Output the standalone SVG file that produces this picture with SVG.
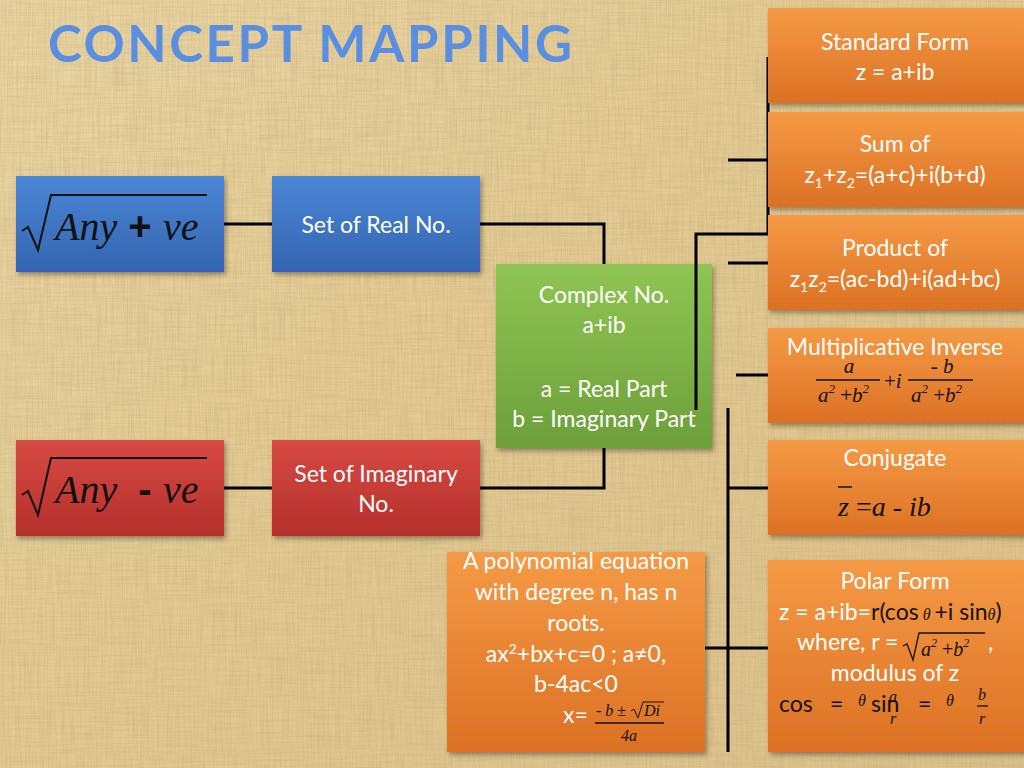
<svg xmlns="http://www.w3.org/2000/svg" width="1024" height="768" viewBox="0 0 1024 768">
<defs>
<style>
.t{font-family:Lato,"Open Sans","Liberation Sans",sans-serif;font-size:23px;fill:#fff;text-anchor:middle}
.s{font-family:Lato,"Open Sans","Liberation Sans",sans-serif;font-size:23px}
.m{font-family:"Liberation Serif","DejaVu Serif",serif;font-style:italic;fill:#111}
.k{fill:#111}
.w{fill:#fff}
.c{stroke:#000;stroke-width:3;fill:none}
.fl{stroke:#111;stroke-width:1.3}
</style>
<linearGradient id="bg" x1="0" y1="0" x2="1" y2="1">
<stop offset="0" stop-color="#ead5a3"/><stop offset="0.5" stop-color="#e4ca92"/><stop offset="1" stop-color="#dcc089"/>
</linearGradient>
<linearGradient id="gb" x1="0" y1="0" x2="0" y2="1"><stop offset="0" stop-color="#4a87d6"/><stop offset="1" stop-color="#3464b0"/></linearGradient>
<linearGradient id="gr" x1="0" y1="0" x2="0" y2="1"><stop offset="0" stop-color="#d84a44"/><stop offset="1" stop-color="#b42f2b"/></linearGradient>
<linearGradient id="gg" x1="0" y1="0" x2="0" y2="1"><stop offset="0" stop-color="#8fc553"/><stop offset="1" stop-color="#6d9f3a"/></linearGradient>
<linearGradient id="go" x1="0" y1="0" x2="0" y2="1"><stop offset="0" stop-color="#f59a45"/><stop offset="1" stop-color="#dc7124"/></linearGradient>
<filter id="sh" x="-10%" y="-10%" width="125%" height="125%"><feDropShadow dx="2" dy="3" stdDeviation="2.5" flood-color="#000" flood-opacity="0.35"/></filter>
<filter id="tx" x="0" y="0" width="100%" height="100%">
<feTurbulence type="fractalNoise" baseFrequency="0.8 0.02" numOctaves="2" seed="3" result="h"/>
<feColorMatrix in="h" values="0 0 0 0 0.5  0 0 0 0 0.38  0 0 0 0 0.18  0 0 0 1.2 -0.45" result="hc"/>
<feTurbulence type="fractalNoise" baseFrequency="0.02 0.8" numOctaves="2" seed="7" result="v"/>
<feColorMatrix in="v" values="0 0 0 0 0.5  0 0 0 0 0.38  0 0 0 0 0.18  0 0 0 1.0 -0.4" result="vc"/>
<feMerge><feMergeNode in="hc"/><feMergeNode in="vc"/></feMerge>
</filter>
</defs>
<rect width="1024" height="768" fill="url(#bg)"/>
<rect width="1024" height="768" filter="url(#tx)" opacity="0.6"/>

<text x="48" y="62" textLength="528" lengthAdjust="spacing" style="font-family:Lato,'Open Sans',sans-serif;font-weight:bold;font-size:51px;fill:#5a8ee0;letter-spacing:4px">CONCEPT MAPPING</text>

<g id="connectors">
<path class="c" d="M224,224H272"/>
<path class="c" d="M480,224H604V264"/>
<path class="c" d="M224,488H272"/>
<path class="c" d="M480,488H604V448"/>
<path class="c" d="M696,410V234H768V57"/>
<path class="c" d="M728,160H768"/>
<path class="c" d="M728,263H768"/>
<path class="c" d="M736,375H768"/>
<path class="c" d="M728,408V752"/>
<path class="c" d="M728,488H768"/>
<path class="c" d="M705,648H768"/>
</g>

<g id="sqrt-pos">
<rect x="16" y="176" width="208" height="96" fill="url(#gb)" filter="url(#sh)"/>
<path d="M22,231L28,227L38,250L51,195H207" fill="none" stroke="#111" stroke-width="2"/>
<text class="m" x="55" y="240" font-size="40">Any</text>
<text x="140" y="240" font-size="40" style="font-family:'Liberation Sans',sans-serif;font-weight:bold;fill:#111" text-anchor="middle">+</text>
<text class="m" x="163" y="240" font-size="40">ve</text>
</g>

<g id="set-real">
<rect x="272" y="176" width="208" height="96" fill="url(#gb)" filter="url(#sh)"/>
<text class="t" x="376" y="233">Set of Real No.</text>
</g>

<g id="sqrt-neg">
<rect x="16" y="440" width="208" height="96" fill="url(#gr)" filter="url(#sh)"/>
<path d="M22,495L28,491L38,515L51,458H207" fill="none" stroke="#111" stroke-width="2"/>
<text class="m" x="55" y="503" font-size="40">Any</text>
<text x="145" y="503" font-size="40" style="font-family:'Liberation Sans',sans-serif;font-weight:bold;fill:#111" text-anchor="middle">-</text>
<text class="m" x="163" y="503" font-size="40">ve</text>
</g>

<g id="set-imag">
<rect x="272" y="440" width="208" height="96" fill="url(#gr)" filter="url(#sh)"/>
<text class="t" x="376" y="482">Set of Imaginary</text>
<text class="t" x="376" y="512">No.</text>
</g>

<g id="complex">
<rect x="496" y="264" width="216" height="184" fill="url(#gg)" filter="url(#sh)"/>
<text class="t" x="604" y="303">Complex No.</text>
<text class="t" x="604" y="333">a+ib</text>
<text class="t" x="604" y="397">a = Real Part</text>
<text class="t" x="604" y="427">b = Imaginary Part</text>
</g>
<path class="c" d="M696,410V264"/>

<g id="standard">
<rect x="768" y="8" width="262" height="95" fill="url(#go)" filter="url(#sh)"/>
<text class="t" x="895" y="50">Standard Form</text>
<text class="t" x="895" y="80">z = a+ib</text>
</g>

<g id="sum">
<rect x="768" y="112" width="262" height="95" fill="url(#go)" filter="url(#sh)"/>
<text class="t" x="895" y="152">Sum of</text>
<text class="t" x="895" y="183">z<tspan font-size="14" dy="5">1</tspan><tspan dy="-5">+z</tspan><tspan font-size="14" dy="5">2</tspan><tspan dy="-5">=(a+c)+i(b+d)</tspan></text>
</g>

<g id="product">
<rect x="768" y="215" width="262" height="95" fill="url(#go)" filter="url(#sh)"/>
<text class="t" x="895" y="256">Product of</text>
<text class="t" x="895" y="287">z<tspan font-size="14" dy="5">1</tspan><tspan dy="-5">z</tspan><tspan font-size="14" dy="5">2</tspan><tspan dy="-5">=(ac-bd)+i(ad+bc)</tspan></text>
</g>

<g id="inverse">
<rect x="768" y="328" width="262" height="95" fill="url(#go)" filter="url(#sh)"/>
<text class="t" x="895" y="355">Multiplicative Inverse</text>
<text class="m" x="849" y="373" font-size="21" text-anchor="middle">a</text>
<line class="fl" x1="816" y1="380" x2="880" y2="380"/>
<text class="m" x="818" y="402" font-size="21">a<tspan font-size="13" dy="-9">2</tspan><tspan dy="9" style="font-style:normal"> +</tspan>b<tspan font-size="13" dy="-9">2</tspan></text>
<text class="m" x="884" y="388" font-size="21"><tspan style="font-style:normal">+</tspan>i</text>
<line class="fl" x1="908" y1="380" x2="973" y2="380"/>
<text class="m" x="942" y="373" font-size="21" text-anchor="middle"><tspan style="font-style:normal">-</tspan> b</text>
<text class="m" x="911" y="402" font-size="21">a<tspan font-size="13" dy="-9">2</tspan><tspan dy="9" style="font-style:normal"> +</tspan>b<tspan font-size="13" dy="-9">2</tspan></text>
</g>

<g id="conjugate">
<rect x="768" y="440" width="262" height="95" fill="url(#go)" filter="url(#sh)"/>
<text class="t" x="895" y="466">Conjugate</text>
<line x1="838" y1="487" x2="852" y2="487" stroke="#111" stroke-width="1.5"/>
<text class="m" x="838" y="516" font-size="28">z <tspan style="font-style:normal">=</tspan>a <tspan style="font-style:normal">-</tspan>  ib</text>
</g>

<g id="polar">
<rect x="768" y="560" width="262" height="192" fill="url(#go)" filter="url(#sh)"/>
<text class="t" x="895" y="589">Polar Form</text>
<text class="s" x="779" y="620"><tspan class="w">z = a+ib=</tspan><tspan class="k">r(cos</tspan><tspan class="m" font-size="16"> θ </tspan><tspan class="k">+i sin</tspan><tspan class="m" font-size="16">θ</tspan><tspan class="k">)</tspan></text>
<text class="s w" x="797" y="650">where, r =</text>
<path d="M903,646L907,644L913,660L919,633H985" fill="none" stroke="#111" stroke-width="1.3"/>
<text class="m" x="921" y="656" font-size="20">a<tspan font-size="12" dy="-9">2</tspan><tspan dy="9" style="font-style:normal"> +</tspan>b<tspan font-size="12" dy="-9">2</tspan></text>
<text class="s w" x="988" y="650">,</text>
<text class="t" x="895" y="681">modulus of z</text>
<text class="s k" x="779" y="712">cos</text>
<text class="s k" x="830" y="712">=</text>
<text class="m" x="858" y="706" font-size="16">θ</text>
<text class="s k" x="871" y="712">sin</text>
<text class="m" x="889" y="702" font-size="16">a</text>
<text class="m" x="890" y="724" font-size="16">r</text>
<text class="s k" x="918" y="712">=</text>
<text class="m" x="946" y="706" font-size="16">θ</text>
<text class="m" x="978" y="700" font-size="16">b</text>
<line class="fl" x1="977" y1="706" x2="988" y2="706"/>
<text class="m" x="979" y="724" font-size="16">r</text>
</g>

<g id="polynomial">
<rect x="447" y="552" width="258" height="200" fill="url(#go)" filter="url(#sh)"/>
<text class="t" x="576" y="569">A polynomial equation</text>
<text class="t" x="576" y="600">with degree n, has n</text>
<text class="t" x="576" y="631">roots.</text>
<text class="t" x="576" y="662">ax<tspan font-size="14" dy="-8">2</tspan><tspan dy="8">+bx+c=0 ; a≠0,</tspan></text>
<text class="t" x="576" y="692">b-4ac&lt;0</text>
<text class="s w" x="563" y="723">x=</text>
<text class="m" x="596" y="716" font-size="16"><tspan style="font-style:normal">-</tspan> b <tspan style="font-style:normal">±</tspan></text>
<path d="M631,711L634,709L638,718L643,702H664" fill="none" stroke="#111" stroke-width="1"/>
<text class="m" x="644" y="716" font-size="16">Di</text>
<line class="fl" x1="595" y1="723" x2="664" y2="723" stroke-width="1"/>
<text class="m" x="629" y="741" font-size="16" text-anchor="middle">4a</text>
</g>
</svg>
